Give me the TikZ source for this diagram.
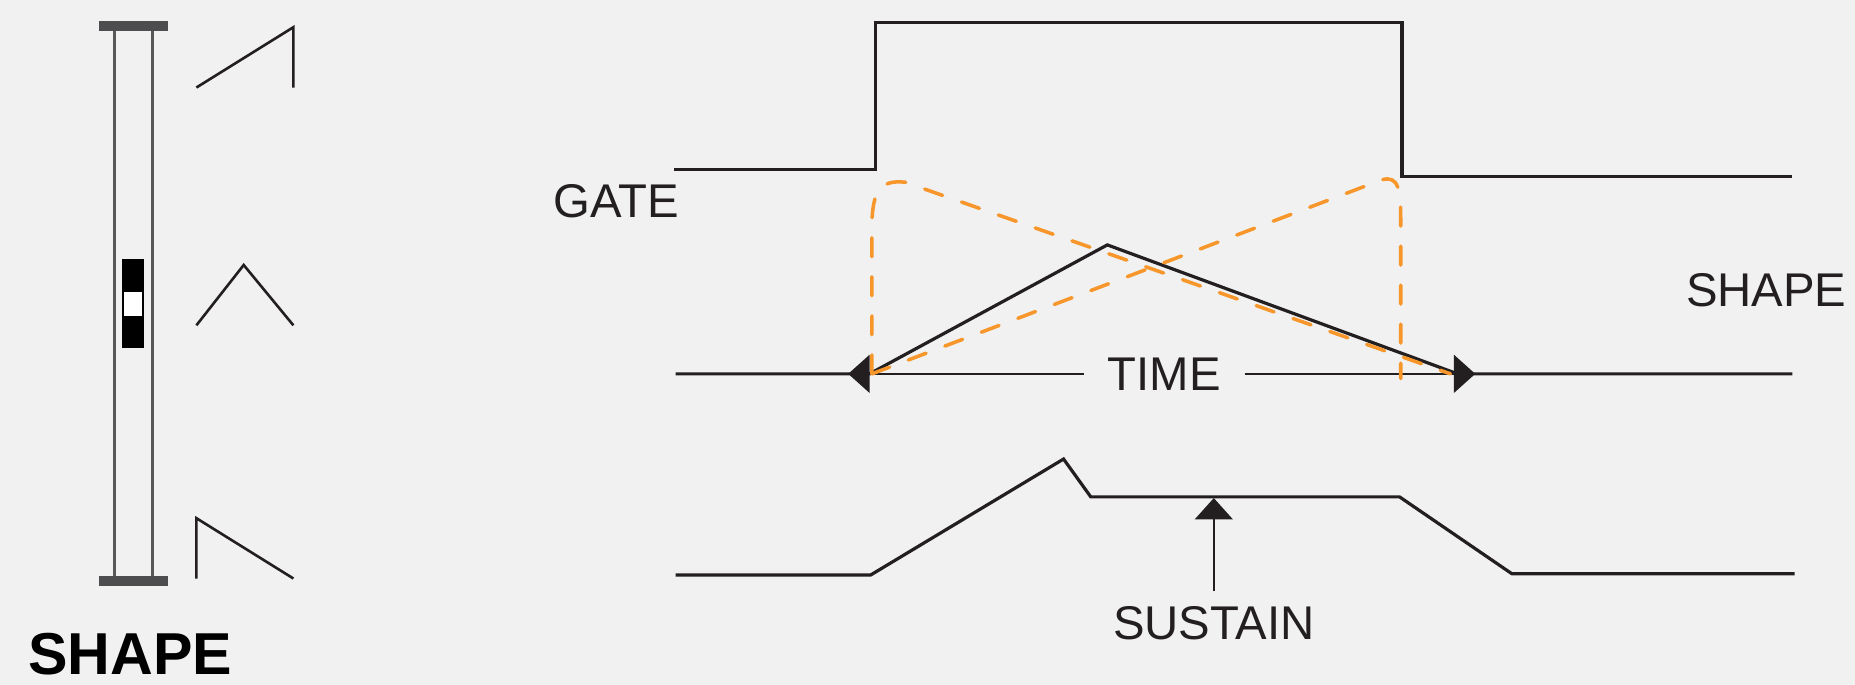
\documentclass[tikz,border=0pt]{standalone}
\usepackage{fontspec}
\setmainfont{Liberation Sans}
\usetikzlibrary{arrows.meta}
\definecolor{ink}{HTML}{231F20}
\definecolor{paper}{HTML}{F0F1F0}
\definecolor{rail}{HTML}{58585A}
\definecolor{end_bar}{HTML}{4D4D4F}
\definecolor{morph}{HTML}{F7962A}

\begin{document}
\begin{tikzpicture}[x={(1pt,0)}, y={(0,-1pt)}]
            \tikzstyle{tag} = [text = ink, inner sep = 0pt, font = \fontsize{40}{40}\selectfont];
            \tikzstyle{env} = [ink, line width = 2.7pt];
            \tikzstyle{icon} = [ink, line width = 2.2pt];
            \tikzstyle{dash_curve} = [morph, line width = 3pt, line cap = round, dash pattern = on 16pt off 17pt];
            \tikzstyle{head} = [-{Triangle[length = 18pt, width = 32pt]}, ink, line width = 1.3pt];
            \fill[paper] (0,0) rectangle (1568,579);
            % slider on the left
            \foreach \x in {96.5, 129}
            {\draw[rail, line width = 2.3pt] (\x,26) -- (\x,487);}
            \foreach \y in {18, 487}
            {\fill[end_bar] (84,\y) rectangle (142,\y+8);}
            \fill[black] (103,219) rectangle (122,294);
            \fill[white] (105,247) rectangle (120,267);
            \draw[icon] (166,74) -- (248,23) -- (248,74);
            \draw[icon] (166,275) -- (206,224) -- (248,275);
            \draw[icon] (166,489) -- (166,438) -- (248,489);
            \node[tag, text = black, font = \fontsize{50}{50}\selectfont\bfseries] (title) at (110,553) {SHAPE};
            % gate
            \draw[env] (570,143) -- (740,143) -- (740,19) -- (1185,19) -- (1185,149) -- (1515,149);
            \node[tag] (gate) at (521,170) {GATE};
            % shaped envelope
            \draw[env] (571,316) -- (735,316) -- (936,207) -- (1232,316) -- (1515,316);
            \node[tag] (shape) at (1493,245) {SHAPE};
            \node[tag, inner xsep = 20pt, fill = paper] (time) at (984,316) {TIME};
            \coordinate (t_left) at (717,316);
            \coordinate (t_right) at (1247,316);
            \draw[head] (time) -- (t_left);
            \draw[head] (time) -- (t_right);
            \draw[dash_curve] (737,316) -- (737,192) .. controls (737,160) and (745,152) .. (765,154) -- (1226,316);
            \draw[dash_curve] (737,316) -- (1168,152) .. controls (1182,148) and (1184,160) .. (1184,185) -- (1184,320);
            % adsr
            \draw[env] (571,486) -- (736,486) -- (899,388) -- (922,420) -- (1183,420) -- (1278,485) -- (1517,485);
            \node[tag] (sustain) at (1026,527) {SUSTAIN};
            \coordinate (s_tip) at (1026,421);
            \draw[head, shorten <= 13pt] (sustain) -- (s_tip);
        \end{tikzpicture}
\end{document}
